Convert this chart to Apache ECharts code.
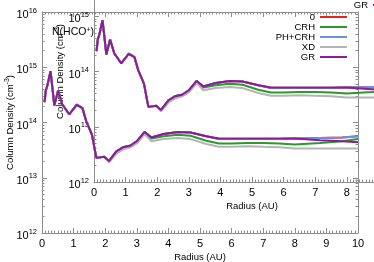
<!DOCTYPE html>
<html><head><meta charset="utf-8">
<script src="https://cdn.jsdelivr.net/npm/echarts@6/dist/echarts.min.js"></script>
<style>html,body{margin:0;padding:0;background:#fff;overflow:hidden}#c{width:374px;height:262px}</style>
</head><body><div id="c"></div><script>
// ---- data ----
const radius = [0.08, 0.12, 0.17, 0.27, 0.39, 0.51, 0.64, 0.86, 1.10, 1.28, 1.40, 1.50, 1.58, 1.72, 1.97, 2.12, 2.36, 2.56, 2.79, 3.00, 3.25, 3.46, 3.85, 4.30, 4.70, 5.20, 5.60, 6.00, 6.50, 7.00, 7.50, 8.00, 8.80, 9.50, 10.00];
const seriesNames = ['0', 'CRH', 'PH+CRH', 'XD', 'GR'];
const valZero  = [2.34e14, 3.80e14, 4.68e14, 8.51e14, 2.04e14, 3.80e14, 2.14e14, 1.41e14, 2.09e14, 1.82e14, 1.05e14, 7.76e13, 6.03e13, 2.29e13, 2.40e13, 2.00e13, 3.02e13, 3.55e13, 3.80e13, 4.57e13, 6.76e13, 5.37e13, 6.17e13, 6.76e13, 6.61e13, 5.62e13, 5.01e13, 5.01e13, 5.01e13, 5.01e13, 5.01e13, 5.13e13, 5.25e13, 5.37e13, 5.62e13];
const valCRH   = [2.34e14, 3.80e14, 4.68e14, 8.51e14, 2.04e14, 3.80e14, 2.14e14, 1.41e14, 2.14e14, 1.82e14, 1.05e14, 7.76e13, 6.03e13, 2.29e13, 2.40e13, 2.00e13, 3.02e13, 3.55e13, 3.80e13, 4.57e13, 6.76e13, 5.13e13, 5.62e13, 6.03e13, 5.75e13, 4.68e13, 4.17e13, 4.17e13, 4.27e13, 4.27e13, 4.17e13, 3.98e13, 4.27e13, 4.57e13, 5.01e13];
const valPHCRH = [2.34e14, 3.80e14, 4.68e14, 8.51e14, 2.04e14, 3.80e14, 2.14e14, 1.41e14, 2.09e14, 1.82e14, 1.05e14, 7.76e13, 6.03e13, 2.29e13, 2.40e13, 2.00e13, 3.02e13, 3.55e13, 3.80e13, 4.57e13, 6.76e13, 5.37e13, 6.17e13, 6.76e13, 6.61e13, 5.62e13, 5.01e13, 5.01e13, 5.01e13, 5.01e13, 5.01e13, 5.13e13, 5.25e13, 5.37e13, 5.62e13];
const valXD    = [2.34e14, 3.80e14, 4.68e14, 8.51e14, 2.04e14, 3.80e14, 2.14e14, 1.41e14, 2.09e14, 1.82e14, 1.05e14, 7.76e13, 6.03e13, 2.29e13, 2.40e13, 1.91e13, 2.75e13, 3.24e13, 3.55e13, 4.17e13, 6.17e13, 4.57e13, 5.01e13, 5.25e13, 5.01e13, 4.07e13, 3.63e13, 3.63e13, 3.72e13, 3.63e13, 3.55e13, 3.39e13, 3.39e13, 3.39e13, 3.39e13];
const valGR    = [2.34e14, 3.80e14, 4.68e14, 8.51e14, 2.04e14, 3.80e14, 2.14e14, 1.41e14, 2.09e14, 1.82e14, 1.05e14, 7.76e13, 6.03e13, 2.29e13, 2.40e13, 2.00e13, 3.02e13, 3.55e13, 3.80e13, 4.57e13, 6.76e13, 5.37e13, 6.17e13, 6.76e13, 6.61e13, 5.62e13, 5.13e13, 5.13e13, 5.13e13, 5.13e13, 5.13e13, 5.13e13, 4.79e13, 4.57e13, 4.37e13];
const yMajorTicks = [1e12, 1e13, 1e14, 1e15, 1e16];
const xTickLabels = ['0', '1', '2', '3', '4', '5', '6', '7', '8', '9', '10'];

// ---- styling / layout ----
const FONT = '"Liberation Sans", Arial, sans-serif';
const colors = ['#e8231c', '#2a9a2a', '#6b8fe6', '#b4b4b4', '#8d1a98'];
const axisGrey = '#8c8c8c';
const yMinorTicks = [];
for (let e = 12; e < 16; e++) for (let k = 2; k <= 9; k++) yMinorTicks.push(k * Math.pow(10, e));
const allValues = [valZero, valCRH, valPHCRH, valXD, valGR];

const supRich = {
  b: { fontSize: 11, fontFamily: FONT, color: '#000', padding: [6, 0, 0, 0] },
  s: { fontSize: 7.5, fontFamily: FONT, color: '#000', padding: [0, 0, 3, 0] }
};
function powLabel(v) { return '{b|10}{s|' + Math.round(Math.log10(v)) + '}'; }

const panels = [
  { left: 42, top: 12, yNameGap: 26 },
  { left: 94, top: -39, yNameGap: 28 }
];
const W = 316, H = 221;

const grids = [], xAxes = [], yAxes = [], series = [], legends = [];
panels.forEach((p, gi) => {
  grids.push({ left: p.left, top: p.top, width: W, height: H, containLabel: false, outerBoundsMode: 'none' });
  const xBase = {
    type: 'value', gridIndex: gi, min: 0, max: 10, interval: 1,
    axisLine: { show: true, lineStyle: { color: axisGrey, width: 1 } },
    axisTick: { show: true, inside: true, length: 5, lineStyle: { color: axisGrey } },
    minorTick: { show: true, splitNumber: 10, length: 2.5, lineStyle: { color: axisGrey } },
    splitLine: { show: false }, minorSplitLine: { show: false }
  };
  xAxes.push(Object.assign({}, xBase, {
    position: 'bottom',
    axisLabel: { show: true, margin: 5, fontSize: 11, fontFamily: FONT, color: '#000',
      formatter: v => xTickLabels[Math.round(v)] },
    name: 'Radius (AU)', nameLocation: 'middle', nameGap: 19, nameMoveOverlap: false,
    nameTextStyle: { fontSize: 9.5, fontFamily: FONT, color: '#000' }
  }));
  xAxes.push(Object.assign({}, xBase, { position: 'top', axisLabel: { show: false } }));
  const yBase = {
    type: 'log', logBase: 10, gridIndex: gi, min: yMajorTicks[0], max: yMajorTicks[yMajorTicks.length - 1],
    splitLine: { show: false }
  };
  ['left', 'right'].forEach(pos => {
    yAxes.push(Object.assign({}, yBase, {
      position: pos,
      axisLine: { show: true, lineStyle: { color: axisGrey, width: 1 } },
      axisTick: { show: true, inside: true, length: 5, lineStyle: { color: axisGrey }, customValues: yMajorTicks },
      axisLabel: pos === 'left'
        ? { show: true, margin: 5, customValues: yMajorTicks, formatter: powLabel, rich: supRich }
        : { show: false },
      name: pos === 'left' ? 'Column Density (cm{s|-3})' : '',
      nameLocation: 'middle', nameGap: p.yNameGap, nameMoveOverlap: false,
      nameTextStyle: { fontSize: 9.5, fontFamily: FONT, color: '#000',
        rich: { s: { fontSize: 7, fontFamily: FONT, color: '#000', padding: [0, 0, 5, 0] } } }
    }));
    yAxes.push(Object.assign({}, yBase, {
      position: pos,
      axisLine: { show: false },
      axisLabel: { show: false },
      axisTick: { show: true, inside: true, length: 2.5, lineStyle: { color: axisGrey }, customValues: yMinorTicks }
    }));
  });
  seriesNames.forEach((nm, si) => {
    series.push({
      type: 'line', name: nm, xAxisIndex: gi * 2, yAxisIndex: gi * 4,
      data: radius.map((r, i) => [r, allValues[si][i]]),
      showSymbol: false, symbol: 'none', smooth: false, clip: true,
      lineStyle: { color: colors[si], width: 2 }, itemStyle: { color: colors[si] },
      emphasis: { disabled: true }, animation: false, z: 2 + si
    });
  });
  legends.push({
    data: seriesNames, orient: 'vertical', align: 'right', icon: 'rect',
    right: gi === 0 ? 27 : -26, top: gi === 0 ? 12 : -40, padding: 0,
    itemWidth: 27, itemHeight: 2, itemGap: 0, selectedMode: false,
    textStyle: { fontSize: 9.5, lineHeight: 10, fontFamily: FONT, color: '#000' }
  });
});

const chart = echarts.init(document.getElementById('c'), null, { renderer: 'canvas' });
chart.setOption({
  backgroundColor: '#fff',
  animation: false,
  color: colors,
  grid: grids, xAxis: xAxes, yAxis: yAxes, series: series, legend: legends,
  graphic: [{
    type: 'text', left: 52, top: 27, z: 10,
    style: { text: 'N(HCO{s|+})', fontSize: 10.5, fontFamily: FONT, fill: '#000',
      rich: { s: { fontSize: 7, fontFamily: FONT, fill: '#000', padding: [0, 0, 4, 0] } } }
  }]
});
</script></body></html>
